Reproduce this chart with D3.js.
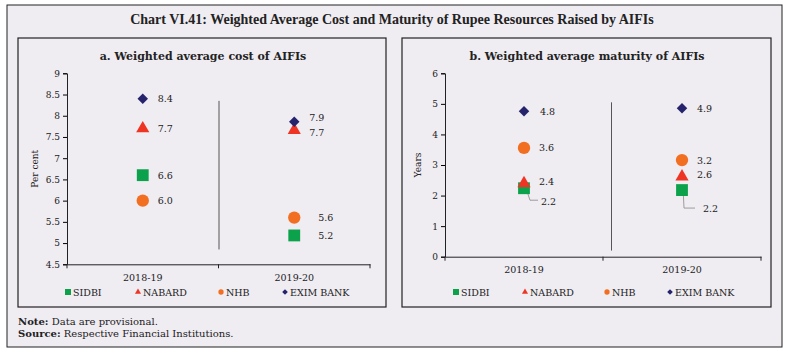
<!DOCTYPE html>
<html>
<head>
<meta charset="utf-8">
<script src="https://cdn.jsdelivr.net/npm/d3@7"></script>
<style>
  body { margin: 0; background: #fff; }
  svg text { font-family: "DejaVu Serif", "Liberation Serif", serif; fill: #222; }
</style>
</head>
<body>
<div id="chart"></div>
<script>
// data
var years = ["2018-19", "2019-20"];
var series = ["SIDBI", "NABARD", "NHB", "EXIM BANK"];
var costSIDBI = [6.6, 5.18];
var costNABARD = [7.7, 7.66];
var costNHB = [6.0, 5.6];
var costEXIM = [8.4, 7.86];
var matSIDBI = [2.24, 2.18];
var matNABARD = [2.4, 2.62];
var matNHB = [3.56, 3.16];
var matEXIM = [4.76, 4.86];
var costTicks = [4.5, 5, 5.5, 6, 6.5, 7, 7.5, 8, 8.5, 9];
var matTicks = [0, 1, 2, 3, 4, 5, 6];

var colors = { "SIDBI": "#0ca24c", "NABARD": "#ee3524", "NHB": "#f26f21", "EXIM BANK": "#24236b" };
var shapes = { "SIDBI": d3.symbolSquare, "NABARD": d3.symbolTriangle, "NHB": d3.symbolCircle, "EXIM BANK": d3.symbolSquare };
var rot = { "SIDBI": 0, "NABARD": 0, "NHB": 0, "EXIM BANK": 45 };

var W = 788, H = 352;
var svg = d3.select("#chart").append("svg").attr("width", W).attr("height", H);

svg.append("rect").attr("x", 7).attr("y", 5).attr("width", 775).attr("height", 342)
  .attr("fill", "#efecf2").attr("stroke", "#222").attr("stroke-width", 1);

svg.append("text").attr("x", 392).attr("y", 24).attr("text-anchor", "middle")
  .style("font-family", "'Liberation Serif', serif").style("font-weight", "bold").style("font-size", "14px")
  .text("Chart VI.41: Weighted Average Cost and Maturity of Rupee Resources Raised by AIFIs");

function panel(opt) {
  var g = svg.append("g");
  g.append("rect").attr("x", opt.box[0]).attr("y", 38).attr("width", opt.box[1] - opt.box[0]).attr("height", 269)
    .attr("fill", "none").attr("stroke", "#222").attr("stroke-width", 1.2);
  g.append("text").attr("x", opt.titleX).attr("y", 60).attr("text-anchor", "middle")
    .style("font-weight", "bold").style("font-size", "11px").text(opt.title);

  var x = d3.scaleBand().domain(years).range(opt.xr).padding(0);
  var y = d3.scaleLinear().domain(opt.dom).range([opt.yr[0], opt.yr[1]]);

  var ya = g.append("g").attr("transform", "translate(" + opt.xr[0] + ",0)")
    .call(d3.axisLeft(y).tickValues(opt.ticks).tickSize(4).tickPadding(3).tickFormat(d3.format("")));
  ya.selectAll("text").style("font-size", "9px");
  var xa = g.append("g").attr("transform", "translate(0," + opt.yr[0] + ")")
    .call(d3.axisBottom(x).tickSize(0).tickPadding(10));
  xa.selectAll("text").style("font-size", "9.5px");
  // tick marks at band edges
  [opt.xr[0], (opt.xr[0] + opt.xr[1]) / 2, opt.xr[1]].forEach(function(t) {
    g.append("line").attr("x1", t).attr("x2", t).attr("y1", opt.yr[0]).attr("y2", opt.yr[0] + 4).attr("stroke", "#222");
  });
  g.selectAll(".domain").attr("stroke", "#222");

  g.append("text").attr("transform", "translate(" + opt.labX + "," + ((opt.yr[0] + opt.yr[1]) / 2) + ") rotate(-90)")
    .attr("text-anchor", "middle").style("font-size", "9px").text(opt.ylab);

  // separator line
  g.append("line").attr("x1", opt.sep[0]).attr("x2", opt.sep[0]).attr("y1", y(opt.sep[1])).attr("y2", y(opt.sep[2]))
    .attr("stroke", "#555").attr("stroke-width", 1);

  var cx = function(i) { return x(years[i]) + x.bandwidth() / 2; };

  // leader lines first
  (opt.leaders || []).forEach(function(l) {
    var x0 = cx(l.i), y0 = y(l.v);
    g.append("polyline").attr("points", [[x0 + 1, y0 - 3], [x0 + l.dx0, y0 + l.dy], [x0 + l.dx, y0 + l.dy]].map(String).join(" "))
      .attr("fill", "none").attr("stroke", "#888").attr("stroke-width", 0.8);
  });

  opt.data.forEach(function(s) {
    s.vals.forEach(function(v, i) {
      var sz = s.name === "SIDBI" ? 140 : s.name === "NHB" ? 120 : s.name === "NABARD" ? 75 : 55;
      g.append("path").attr("d", d3.symbol().type(shapes[s.name]).size(sz))
        .attr("transform", "translate(" + cx(i) + "," + y(v) + ") rotate(" + rot[s.name] + ")")
        .attr("fill", colors[s.name]);
    });
  });

  opt.labels.forEach(function(l) {
    g.append("text").attr("x", cx(l.i) + l.dx).attr("y", y(l.v) + l.dy + 3.5)
      .style("font-size", "9.5px").text(l.v.toFixed(1));
  });

  // legend
  var legX = opt.legX;
  series.forEach(function(s, k) {
    var lx = legX[k], ly = 292;
    g.append("path").attr("d", d3.symbol().type(shapes[s]).size(s === "SIDBI" ? 36 : s === "NHB" ? 22 : 16))
      .attr("transform", "translate(" + lx + "," + ly + ") rotate(" + rot[s] + ")").attr("fill", colors[s]);
    g.append("text").attr("x", lx + 5).attr("y", ly + 3.5).style("font-size", "9.5px").text(s);
  });
}

panel({
  box: [18, 386], titleX: 203, title: "a. Weighted average cost of AIFIs",
  xr: [67, 370], yr: [264.3, 73.3], dom: [4.5, 9], ticks: costTicks, labX: 38, ylab: "Per cent",
  sep: [219, 8.35, 4.85],
  data: [
    { name: "SIDBI", vals: costSIDBI }, { name: "NHB", vals: costNHB },
    { name: "NABARD", vals: costNABARD }, { name: "EXIM BANK", vals: costEXIM }
  ],
  labels: [
    { i: 0, v: costEXIM[0], dx: 15, dy: 0 }, { i: 0, v: costNABARD[0], dx: 15, dy: 0 },
    { i: 0, v: costSIDBI[0], dx: 15, dy: 0 }, { i: 0, v: costNHB[0], dx: 15, dy: 0 },
    { i: 1, v: costEXIM[1], dx: 15, dy: -4 }, { i: 1, v: costNABARD[1], dx: 15, dy: 2 },
    { i: 1, v: costNHB[1], dx: 24, dy: 0 }, { i: 1, v: costSIDBI[1], dx: 24, dy: 0 }
  ],
  legX: [68, 138, 221, 285]
});

panel({
  box: [402, 771], titleX: 587, title: "b. Weighted average maturity of AIFIs",
  xr: [445, 761], yr: [256.7, 73.3], dom: [0, 6], ticks: matTicks, labX: 421, ylab: "Years",
  sep: [611.5, 5.05, 0.2],
  data: [
    { name: "SIDBI", vals: matSIDBI }, { name: "NHB", vals: matNHB },
    { name: "NABARD", vals: matNABARD }, { name: "EXIM BANK", vals: matEXIM }
  ],
  labels: [
    { i: 0, v: matEXIM[0], dx: 16, dy: 0 }, { i: 0, v: matNHB[0], dx: 15, dy: 0 },
    { i: 0, v: matNABARD[0], dx: 15, dy: -2 }, { i: 0, v: matSIDBI[0], dx: 17, dy: 13 },
    { i: 1, v: matEXIM[1], dx: 15, dy: 0 }, { i: 1, v: matNHB[1], dx: 15, dy: 0 },
    { i: 1, v: matNABARD[1], dx: 15, dy: -2 }, { i: 1, v: matSIDBI[1], dx: 21, dy: 18 }
  ],
  leaders: [
    { i: 0, v: matSIDBI[0], dx0: 6, dy: 12, dx: 14 },
    { i: 1, v: matSIDBI[1], dx0: 2, dy: 18, dx: 13 }
  ],
  legX: [456, 525, 607, 670]
});

var foot = svg.append("g").style("font-size", "10px");
var n = foot.append("text").attr("x", 18).attr("y", 325);
n.append("tspan").style("font-weight", "bold").text("Note:");
n.append("tspan").text(" Data are provisional.");
var s2 = foot.append("text").attr("x", 18).attr("y", 336.5);
s2.append("tspan").style("font-weight", "bold").text("Source:");
s2.append("tspan").text(" Respective Financial Institutions.");
</script>
</body>
</html>
